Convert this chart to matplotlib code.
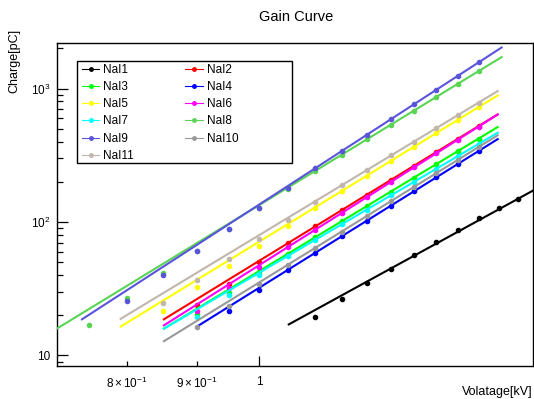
import numpy as np
import matplotlib
matplotlib.use('Agg')
import matplotlib.pyplot as plt
from matplotlib.lines import Line2D
from matplotlib.patches import Rectangle
from matplotlib.ticker import FixedLocator, FixedFormatter, NullFormatter

plt.rcParams['font.family'] = ['Liberation Sans', 'DejaVu Sans']
plt.rcParams['mathtext.fontset'] = 'custom'
plt.rcParams['mathtext.rm'] = 'Liberation Sans'
plt.rcParams['mathtext.it'] = 'Liberation Sans:italic'
plt.rcParams['mathtext.bf'] = 'Liberation Sans:bold'

# ---------------- data ----------------
names = ['NaI1', 'NaI2', 'NaI3', 'NaI4', 'NaI5', 'NaI6',
         'NaI7', 'NaI8', 'NaI9', 'NaI10', 'NaI11']
colors = ['#000000', '#ff0000', '#00ff00', '#0000ff', '#ffff00', '#ff00ff',
          '#00ffff', '#59d454', '#5954d9', '#999999', '#c0b6ac']

v_nai1 = [1.10, 1.15, 1.20, 1.25, 1.30, 1.35, 1.40, 1.45, 1.50, 1.55]
q_nai1 = [19.5, 26.4, 34.7, 44.5, 56.3, 71.2, 87.1, 107.7, 128, 148]

v_nai2 = [0.90, 0.95, 1.00, 1.05, 1.10, 1.15, 1.20, 1.25, 1.30, 1.35, 1.40, 1.45]
q_nai2 = [23.9, 34.3, 50.4, 69.3, 92.7, 122.4, 159.7, 206, 263.5, 333.7, 419, 522]

v_nai3 = [0.90, 0.95, 1.00, 1.05, 1.10, 1.15, 1.20, 1.25, 1.30, 1.35, 1.40, 1.45]
q_nai3 = [20.5, 29.4, 42.2, 57.7, 76.9, 101.1, 131.4, 168.9, 214.9, 271.1, 339.2, 421.3]

v_nai4 = [0.95, 1.00, 1.05, 1.10, 1.15, 1.20, 1.25, 1.30, 1.35, 1.40, 1.45]
q_nai4 = [21.6, 30.9, 43.7, 58.7, 77.9, 102.1, 132.3, 169.7, 215.7, 271.6, 339.8]

v_nai5 = [0.85, 0.90, 0.95, 1.00, 1.05, 1.10, 1.15, 1.20, 1.25, 1.30, 1.35, 1.40, 1.45]
q_nai5 = [21.5, 32.4, 46.8, 66.4, 93.3, 126.7, 170, 222, 287, 366, 464, 582, 726]

v_nai6 = [0.90, 0.95, 1.00, 1.05, 1.10, 1.15, 1.20, 1.25, 1.30, 1.35, 1.40, 1.45]
q_nai6 = [21.6, 31.9, 45.8, 64.9, 87.6, 116.7, 153.4, 199.4, 256.6, 327.3, 413.6, 518.9]

v_nai7 = [0.90, 0.95, 1.00, 1.05, 1.10, 1.15, 1.20, 1.25, 1.30, 1.35, 1.40, 1.45]
q_nai7 = [19.5, 28.4, 40.1, 55.7, 73.6, 96.0, 123.9, 158.0, 199.7, 250.3, 311.3, 384.3]

v_nai8 = [0.75, 0.80, 0.85, 0.90, 0.95, 1.00, 1.05, 1.10, 1.15, 1.20, 1.25, 1.30, 1.35, 1.40, 1.45]
q_nai8 = [16.8, 26.8, 41.3, 61, 88, 126.6, 176.6, 242, 319, 416, 536, 684, 865, 1084, 1349]

v_nai9 = [0.80, 0.85, 0.90, 0.95, 1.00, 1.05, 1.10, 1.15, 1.20, 1.25, 1.30, 1.35, 1.40, 1.45]
q_nai9 = [25.5, 39.9, 60.6, 88.6, 128, 179, 253, 340, 450, 589, 762, 978, 1244, 1570]

v_nai10 = [0.90, 0.95, 1.00, 1.05, 1.10, 1.15, 1.20, 1.25, 1.30, 1.35, 1.40, 1.45]
q_nai10 = [16.4, 23.5, 34.3, 47.8, 64.0, 84.7, 110.7, 143.0, 182.9, 232.1, 291.6, 364.0]

v_nai11 = [0.85, 0.90, 0.95, 1.00, 1.05, 1.10, 1.15, 1.20, 1.25, 1.30, 1.35, 1.40, 1.45]
q_nai11 = [24.9, 36.8, 52.8, 74.2, 103.5, 140.5, 188, 245, 315, 400, 505, 632, 785]

# power-law fit parameters: Q = amp * V**exp
fit_amp = [12.9, 51.1, 42.8, 32.1, 71.1, 47.4, 41.6, 133.6, 134.9, 35.2, 79.6]
fit_exp = [5.585, 6.257, 6.156, 6.352, 6.25, 6.438, 5.983, 6.223, 6.602, 6.289, 6.157]
fit_lo = [1.05, 0.85, 0.85, 0.90, 0.79, 0.85, 0.85, 0.70, 0.74, 0.85, 0.79]
fit_hi = [1.60, 1.50, 1.50, 1.50, 1.50, 1.50, 1.50, 1.51, 1.51, 1.50, 1.50]

volts = [v_nai1, v_nai2, v_nai3, v_nai4, v_nai5, v_nai6,
         v_nai7, v_nai8, v_nai9, v_nai10, v_nai11]
charges = [q_nai1, q_nai2, q_nai3, q_nai4, q_nai5, q_nai6,
           q_nai7, q_nai8, q_nai9, q_nai10, q_nai11]

x_ticks_major = [1.0]
x_ticks_minor = [0.8, 0.9]
x_minor_labels = [r'$8\times10^{-1}$', r'$9\times10^{-1}$']
y_ticks_major = [10, 100, 1000]
y_major_labels = ['10', r'$10^{2}$', r'$10^{3}$']

# ---------------- figure ----------------
W, H = 534, 399
fig = plt.figure(figsize=(W / 100, H / 100), dpi=100)
fig.subplots_adjust(left=57 / W, right=533 / W, bottom=1 - 366 / H, top=1 - 43 / H)
ax = fig.add_subplot(111)
ax.set_xscale('log')
ax.set_yscale('log')
ax.set_xlim(0.7104, 1.590)
ax.set_ylim(8.34, 2193)

handles = []
for i, name in enumerate(names):
    c = colors[i]
    ax.plot(volts[i], charges[i], linestyle='none', marker='o', ms=3.0,
            color=c, mec=c, zorder=2 + i * 0.1)
    vv = np.geomspace(fit_lo[i], fit_hi[i], 60)
    ax.plot(vv, fit_amp[i] * vv ** fit_exp[i], color=c, lw=1.5,
            zorder=2.05 + i * 0.1, solid_capstyle='butt')
    handles.append(Line2D([], [], color=c, lw=0.8, marker='o', ms=2.5, mec=c))

# ticks
ax.xaxis.set_major_locator(FixedLocator(x_ticks_major))
ax.xaxis.set_major_formatter(FixedFormatter(['1']))
ax.xaxis.set_minor_locator(FixedLocator(x_ticks_minor))
ax.xaxis.set_minor_formatter(FixedFormatter(x_minor_labels))
ax.yaxis.set_major_locator(FixedLocator(y_ticks_major))
ax.yaxis.set_major_formatter(FixedFormatter(y_major_labels))
ax.yaxis.set_minor_locator(FixedLocator([m * d for d in (1, 10, 100, 1000) for m in range(2, 10)]))
ax.yaxis.set_minor_formatter(NullFormatter())

ax.tick_params(axis='both', which='both', direction='in', top=False, right=False,
               labelsize=8.5, width=0.9, colors='black')
ax.tick_params(axis='y', which='major', length=8, pad=5)
ax.tick_params(axis='y', which='minor', length=4)
ax.tick_params(axis='x', which='major', length=7, pad=7)
ax.tick_params(axis='x', which='minor', length=3.5, pad=7)
for s in ax.spines.values():
    s.set_linewidth(1.0)

# titles
fig.text(296 / W, 1 - 17 / H, 'Gain Curve', ha='center', va='center', fontsize=10.5)
fig.text(533 / W, 1 - 392 / H, 'Volatage[kV]', ha='right', va='center', fontsize=9)
fig.text(14 / W, 1 - 29 / H, 'Charge[pC]', ha='center', va='top', rotation=90, fontsize=9)

# legend (row-wise ordering like ROOT, 2 columns)
order = [0, 2, 4, 6, 8, 10, 1, 3, 5, 7, 9]
leg = ax.legend([handles[k] for k in order], [names[k] for k in order], ncol=2,
                loc='upper left', bbox_to_anchor=(77.3 / W, 1 - 59.5 / H),
                bbox_transform=fig.transFigure, frameon=False, fontsize=8.5,
                borderpad=0.37, handlelength=1.5, handletextpad=0.34,
                columnspacing=4.34, labelspacing=0.44, borderaxespad=0)
leg.set_zorder(10)
fig.patches.append(Rectangle((77.3 / W, 1 - 163.3 / H), 214.4 / W, 102.3 / H,
                             transform=fig.transFigure, fill=False,
                             edgecolor='black', lw=1.0, zorder=11))

fig.savefig('out.png', dpi=100)
